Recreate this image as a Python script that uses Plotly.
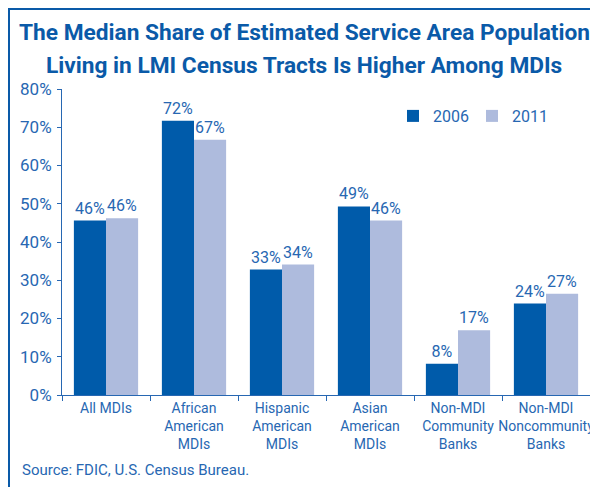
import plotly.graph_objects as go

categories = ["All MDIs", "African<br>American<br>MDIs", "Hispanic<br>American<br>MDIs",
              "Asian<br>American<br>MDIs", "Non-MDI<br>Community<br>Banks",
              "Non-MDI<br>Noncommunity<br>Banks"]
values_2006 = [45.6, 71.7, 32.8, 49.3, 8.2, 23.9]
values_2011 = [46.2, 66.7, 34.1, 45.6, 16.9, 26.5]
labels_2006 = ["46%", "72%", "33%", "49%", "8%", "24%"]
labels_2011 = ["46%", "67%", "34%", "46%", "17%", "27%"]
series_names = ["2006", "2011"]
y_ticks = [0, 10, 20, 30, 40, 50, 60, 70, 80]
y_tick_labels = ["0%", "10%", "20%", "30%", "40%", "50%", "60%", "70%", "80%"]

DARK = "#005BAA"
LIGHT = "#AEBBDD"
TXT = "#2767B2"
TITLE = "#0A5AA8"
FONT = "Roboto, Liberation Sans, Arial, sans-serif"

# the page adds an 8px body margin: figure coordinates = screen - 8
OFF = 8
W, H = 598 - OFF, 487 - OFF
L, R, T, B = 62 - OFF, 8, 89 - OFF, 92
ph = H - T - B
pw = W - L - R


def px_x(sx):
    return (sx - OFF - L) / pw


def px_y(sy):
    return (H - B - (sy - OFF)) / ph


fig = go.Figure()
for name, vals, labs, col in [(series_names[0], values_2006, labels_2006, DARK),
                              (series_names[1], values_2011, labels_2011, LIGHT)]:
    fig.add_trace(go.Bar(x=categories, y=vals, name=name,
                         marker=dict(color=col, line=dict(width=0)),
                         text=labs, textposition="outside",
                         textfont=dict(family=FONT, size=16, color=TXT),
                         cliponaxis=False, constraintext="none"))

fig.update_layout(
    width=W, height=H, autosize=False,
    margin=dict(l=L, r=R, t=T, b=B, pad=0, autoexpand=False),
    paper_bgcolor="white", plot_bgcolor="white",
    barmode="group", bargap=0.27, bargroupgap=0,
    font=dict(family=FONT, color=TXT, size=14),
    legend=dict(orientation="h", x=px_x(393), y=px_y(116), xanchor="left", yanchor="middle",
                font=dict(family=FONT, size=16, color=TXT),
                bgcolor="rgba(0,0,0,0)", entrywidth=34, entrywidthmode="pixels",
                itemwidth=30, traceorder="normal"),
    xaxis=dict(showline=True, linecolor=TXT, linewidth=1, ticks="outside",
               tickson="boundaries", ticklen=5, tickcolor=TXT, tickangle=0,
               automargin=False,
               tickfont=dict(family=FONT, size=14, color=TXT), showgrid=False),
    yaxis=dict(range=[0, 80], tickvals=y_ticks, ticktext=y_tick_labels, showline=True,
               linecolor=TXT, linewidth=1, ticks="outside", ticklen=4, tickcolor=TXT,
               automargin=False, ticklabelstandoff=2,
               tickfont=dict(family=FONT, size=17, color=TXT), showgrid=False,
               zeroline=False),
)

# title as two centred lines
title_lines = ["The Median Share of Estimated Service Area Population",
               "Living in LMI Census Tracts Is Higher Among MDIs"]
for line, sy in zip(title_lines, [33, 65]):
    fig.add_annotation(text="<b>" + line + "</b>", xref="paper", yref="paper",
                       x=px_x(304), y=px_y(sy), xanchor="center", yanchor="middle",
                       showarrow=False, font=dict(family=FONT, size=22.7, color=TITLE))

# frame lines on top and left of the graphic
fig.add_shape(type="line", xref="paper", yref="paper",
              x0=px_x(8), x1=px_x(600), y0=px_y(9), y1=px_y(9),
              line=dict(color=TITLE, width=2))
fig.add_shape(type="line", xref="paper", yref="paper",
              x0=px_x(9), x1=px_x(9), y0=px_y(8), y1=px_y(490),
              line=dict(color=TITLE, width=2))

fig.add_annotation(text="Source: FDIC, U.S. Census Bureau.", xref="paper", yref="paper",
                   x=px_x(20), y=px_y(470), xanchor="left", yanchor="middle",
                   showarrow=False, font=dict(family=FONT, size=15, color=TXT))

fig.write_html("out.html")
